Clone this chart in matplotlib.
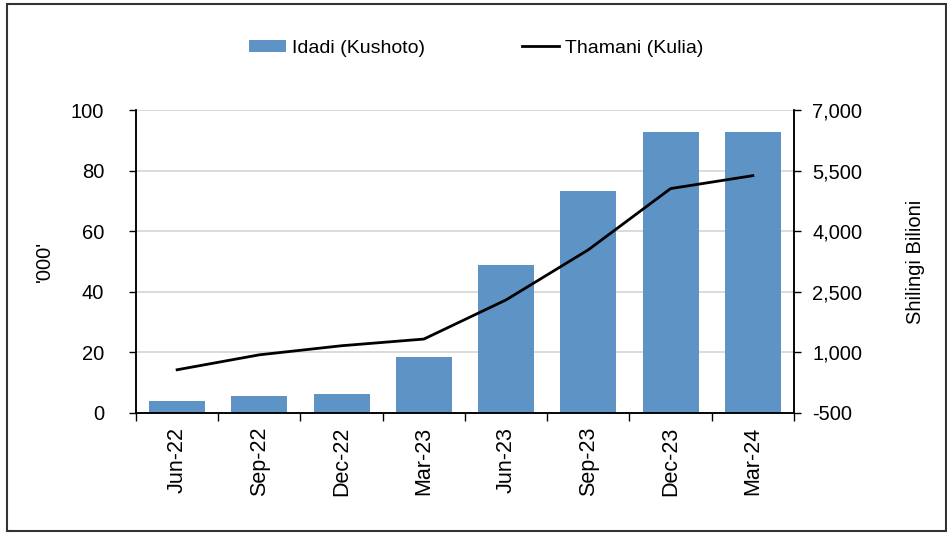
import matplotlib.pyplot as plt
from matplotlib.patches import Rectangle
from matplotlib.ticker import FuncFormatter
import numpy as np

plt.rcParams['font.family'] = ['Liberation Sans', 'DejaVu Sans']

quarters = ["Jun-22", "Sep-22", "Dec-22", "Mar-23", "Jun-23", "Sep-23", "Dec-23", "Mar-24"]
idadi = [4.1, 5.5, 6.2, 18.5, 48.8, 73.3, 92.6, 92.6]          # '000, left axis
thamani = [570, 940, 1165, 1330, 2300, 3540, 5055, 5375]        # Shilingi bilioni, right axis

bar_color = "#5E93C6"

fig = plt.figure(figsize=(9.47, 5.34), dpi=100)
ax = fig.add_axes([0.1436, 0.2266, 0.6948, 0.5674])
ax2 = ax.twinx()

x = np.arange(len(quarters))
ax.set_axisbelow(True)
ax.yaxis.grid(True, color="#D4D4D4", linewidth=1.2)
bars = ax.bar(x, idadi, width=0.68, color=bar_color, label="Idadi (Kushoto)", zorder=2)
line, = ax2.plot(x, thamani, color="black", linewidth=2, label="Thamani (Kulia)")

ax.set_xlim(-0.5, len(quarters) - 0.5)
ax.set_ylim(0, 100)
ax.set_yticks(np.arange(0, 101, 20))
ax2.set_ylim(-500, 7000)
ax2.set_yticks(np.arange(-500, 7001, 1500))
ax2.yaxis.set_major_formatter(FuncFormatter(lambda v, p: f"{int(v):,}"))

ax.set_xticks(x)
ax.set_xticklabels(quarters, rotation=90)
ax.set_xticks(np.arange(-0.5, len(quarters), 1), minor=True)
ax.tick_params(axis="x", which="major", length=0, pad=10, labelsize=15.5)
ax.tick_params(axis="x", which="minor", length=6, width=1, direction="out")
ax.tick_params(axis="y", length=5, width=1, labelsize=14.5, pad=18)
ax2.tick_params(axis="y", length=5, width=1, labelsize=14.5, pad=8)

for a in (ax, ax2):
    a.spines["top"].set_visible(False)
    for s in ("left", "right", "bottom"):
        a.spines[s].set_color("black")
        a.spines[s].set_linewidth(1.1)

ax.set_ylabel("'000'", fontsize=14.5)
ax.yaxis.set_label_coords(-0.125, 0.5)
ax2.set_ylabel("Shilingi Bilioni", fontsize=14.5)
ax2.yaxis.set_label_coords(1.17, 0.5)

fig.legend(handles=[bars, line], loc="center", bbox_to_anchor=(0.503, 0.91),
           ncol=2, frameon=False, fontsize=14, handlelength=1.9, handleheight=0.6,
           handletextpad=0.3, columnspacing=5.0)

fig.patches.append(Rectangle((7 / 947, 3 / 534), 939 / 947, 527 / 534,
                             transform=fig.transFigure, fill=False,
                             edgecolor="#333333", linewidth=1.5))

fig.savefig("out.png", dpi=100)
